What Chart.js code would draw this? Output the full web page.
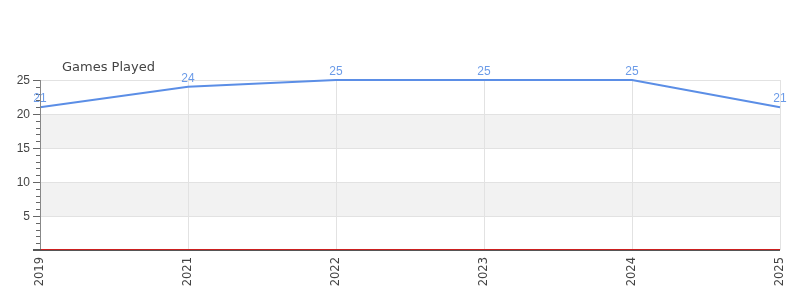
<!DOCTYPE html>
<html><head><meta charset="utf-8">
<script src="https://cdn.jsdelivr.net/npm/chart.js@4/dist/chart.umd.min.js"></script>
<style>html,body{margin:0;padding:0;background:#fff}#w{width:800px;height:300px}</style>
</head><body><div id="w"><canvas id="c"></canvas></div>
<script>
const categories = ['2019','2021','2022','2023','2024','2025'];
const gamesPlayed = [21, 24, 25, 25, 25, 21];
const yTicks = [5, 10, 15, 20, 25];
const bands = [[5,10],[15,20]];
const chartTitle = 'Games Played';
const FONT = 'DejaVu Sans, sans-serif';
const TFONT = 'Liberation Sans, Arial, sans-serif';

const decor = {
  id: 'decor',
  beforeDatasetsDraw(chart) {
    const {ctx, chartArea: a, scales: {y}} = chart;
    ctx.save();
    ctx.fillStyle = '#f2f2f2';
    bands.forEach(([lo, hi]) => {
      const t = y.getPixelForValue(hi), b = y.getPixelForValue(lo);
      ctx.fillRect(a.left, t, a.right - a.left, b - t);
    });
    ctx.strokeStyle = '#e2e2e2'; ctx.lineWidth = 1;
    yTicks.forEach(v => {
      const p = Math.round(y.getPixelForValue(v)) + 0.5;
      ctx.beginPath(); ctx.moveTo(a.left, p); ctx.lineTo(a.right, p); ctx.stroke();
    });
    chart.scales.x.ticks.forEach((t, i) => {
      const p = Math.round(chart.scales.x.getPixelForTick(i)) + 0.5;
      ctx.beginPath(); ctx.moveTo(p, a.top); ctx.lineTo(p, a.bottom); ctx.stroke();
    });
    ctx.restore();
  },
  afterDatasetsDraw(chart) {
    const {ctx, chartArea: a, scales: {y}} = chart;
    ctx.save();
    ctx.strokeStyle = '#666'; ctx.lineWidth = 1;
    for (let v = 0; v <= y.max; v++) {
      const p = Math.round(y.getPixelForValue(v)) + 0.5;
      const len = (v % 5 === 0) ? 7 : 4;
      ctx.beginPath(); ctx.moveTo(a.left - len, p); ctx.lineTo(a.left, p); ctx.stroke();
    }
    ctx.strokeStyle = '#888';
    ctx.beginPath(); ctx.moveTo(a.left + 0.5, a.top); ctx.lineTo(a.left + 0.5, a.bottom); ctx.stroke();
    ctx.strokeStyle = '#555'; ctx.lineWidth = 2;
    const zb = Math.round(y.getPixelForValue(0));
    ctx.beginPath(); ctx.moveTo(a.left - 7, zb); ctx.lineTo(a.right, zb); ctx.stroke();
    ctx.strokeStyle = '#cc1f1f'; ctx.lineWidth = 1;
    ctx.beginPath(); ctx.moveTo(a.left + 1, zb - 0.5); ctx.lineTo(a.right, zb - 0.5); ctx.stroke();
    ctx.fillStyle = '#6b9be8';
    ctx.font = '12px ' + TFONT;
    ctx.textAlign = 'center'; ctx.textBaseline = 'alphabetic';
    chart.getDatasetMeta(0).data.forEach((pt, i) => {
      ctx.fillText(String(gamesPlayed[i]), pt.x, pt.y - 5);
    });
    ctx.fillStyle = '#444';
    ctx.font = '13px ' + FONT;
    ctx.textAlign = 'left'; ctx.textBaseline = 'middle';
    ctx.fillText(chartTitle, a.left + 22, a.top - 12);
    ctx.restore();
  }
};

new Chart(document.getElementById('c'), {
  type: 'line',
  data: {
    labels: categories,
    datasets: [{
      data: gamesPlayed,
      borderColor: '#5b8ee6',
      borderWidth: 2,
      pointRadius: 0,
      tension: 0,
      fill: false,
      clip: false
    }]
  },
  options: {
    responsive: true,
    maintainAspectRatio: false,
    animation: false,
    layout: {padding: {top: 80, right: 20, left: 0, bottom: 0}},
    plugins: {legend: {display: false}, tooltip: {enabled: false}, title: {display: false}},
    scales: {
      x: {
        offset: false,
        grid: {display: false, drawTicks: false},
        border: {display: false},
        ticks: {color: '#444', font: {family: FONT, size: 11.5}, maxRotation: 90, minRotation: 90, padding: 7, autoSkip: false},
        afterFit(s) { s.height = 50; s.paddingRight = 0; s.paddingLeft = 0; }
      },
      y: {
        min: 0, max: 25,
        grid: {display: false, drawTicks: false},
        border: {display: false},
        afterBuildTicks(s) { s.ticks = [0, ...yTicks].map(v => ({value: v})); },
        ticks: {
          color: '#444', font: {family: TFONT, size: 12}, padding: 10, labelOffset: 1,
          callback: v => v === 0 ? '' : String(v)
        },
        afterFit(s) { s.width = 40; }
      }
    }
  },
  plugins: [decor]
});
</script>
</body></html>
